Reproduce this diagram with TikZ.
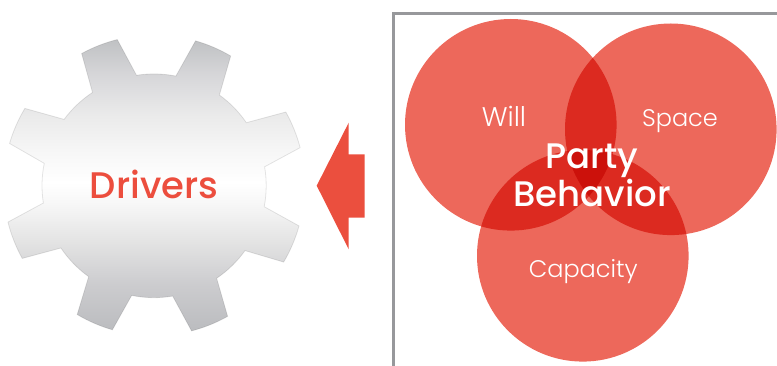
\documentclass[tikz,border=0pt]{standalone}
\usepackage{fontspec}
\usetikzlibrary{calc}
\setmainfont{Poppins}
\newfontfamily\lightfont{Poppins Light}
\newfontfamily\medfont{Poppins Medium}
\definecolor{redfill}{HTML}{ED685B}
\definecolor{arrowred}{HTML}{EB4F3E}
\definecolor{framegray}{HTML}{97989B}
\definecolor{textred}{HTML}{EC4E3E}
\pgfdeclareverticalshading{gearshade}{100bp}{
  rgb(0bp)=(0.733,0.737,0.749);
  rgb(25bp)=(0.733,0.737,0.749);
  rgb(33bp)=(0.80,0.80,0.81);
  rgb(41bp)=(0.90,0.90,0.90);
  rgb(47bp)=(0.97,0.97,0.97);
  rgb(50.5bp)=(1,1,1);
  rgb(56bp)=(0.965,0.965,0.965);
  rgb(62bp)=(0.92,0.92,0.92);
  rgb(69bp)=(0.84,0.84,0.85);
  rgb(75bp)=(0.75,0.757,0.765);
  rgb(100bp)=(0.75,0.757,0.765)
}
\tikzset{
  vennlobe/.style={fill=redfill,blend mode=multiply},
  lighttext/.style={text=white,anchor=base,inner sep=0pt,font=\lightfont\fontsize{24}{24}\selectfont},
  boldtext/.style={text=white,anchor=base,inner sep=0pt,font=\medfont\fontsize{35.5}{36}\selectfont},
}
\begin{document}
\begin{tikzpicture}[x=1pt,y=1pt]
\useasboundingbox (0,0) rectangle (777,366);
% gear
\def\gx{154}\def\gy{180.3}
\shade[shading=gearshade,draw=black,draw opacity=.1,line width=.8pt]
  ($(\gx,\gy)+(118.7:150.7)$) arc[start angle=118.7,end angle=104.1,radius=150.7]
  -- ($(\gx,\gy)+(99:111.8)$) arc[start angle=99,end angle=78.7,radius=111.8]
  -- ($(\gx,\gy)+(74:150.7)$) arc[start angle=74,end angle=59.4,radius=150.7]
  -- ($(\gx,\gy)+(54.2:111.8)$) arc[start angle=54.2,end angle=34.3,radius=111.8]
  -- ($(\gx,\gy)+(29.2:151)$) arc[start angle=29.2,end angle=14.6,radius=151]
  -- ($(\gx,\gy)+(9.7:112.2)$) arc[start angle=9.7,end angle=-10.8,radius=112.2]
  -- ($(\gx,\gy)+(-15.5:150.5)$) arc[start angle=-15.5,end angle=-30.5,radius=150.5]
  -- ($(\gx,\gy)+(-35.5:111.8)$) arc[start angle=-35.5,end angle=-55.9,radius=111.8]
  -- ($(\gx,\gy)+(-60.6:150)$) arc[start angle=-60.6,end angle=-75.5,radius=150]
  -- ($(\gx,\gy)+(-80.4:112)$) arc[start angle=-80.4,end angle=-101.5,radius=112]
  -- ($(\gx,\gy)+(-106.1:150)$) arc[start angle=-106.1,end angle=-120.8,radius=150]
  -- ($(\gx,\gy)+(-125.7:112)$) arc[start angle=-125.7,end angle=-146.2,radius=112]
  -- ($(\gx,\gy)+(-151.1:150.5)$) arc[start angle=-151.1,end angle=-166,radius=150.5]
  -- ($(\gx,\gy)+(-171.1:112)$) arc[start angle=-171.1,end angle=-191.5,radius=112]
  -- ($(\gx,\gy)+(163.7:150.5)$) arc[start angle=163.7,end angle=149.1,radius=150.5]
  -- ($(\gx,\gy)+(143.6:111.7)$) arc[start angle=143.6,end angle=123.4,radius=111.7]
  -- cycle;
\node[anchor=base,inner sep=0pt,text=textred,font=\medfont\fontsize{37}{37}\selectfont] (drivers) at (154,167.7) {Drivers};
% arrow
\fill[arrowred] (316.7,180.3) -- (348.7,243.3) -- (348.7,211.7) -- (364.7,211.7)
  -- (364.7,148.3) -- (348.7,148.3) -- (348.7,116.7) -- cycle;
% frame
\draw[framegray,line width=2.6pt] (393.3,0) -- (393.3,352.3) -- (777,352.3);
% venn
\fill[vennlobe] (510.8,241.2) circle[radius=105.8];
\fill[vennlobe] (670.8,236.7) circle[radius=105.8];
\fill[vennlobe] (582.8,110.2) circle[radius=105.8];
\node[lighttext,font=\lightfont\fontsize{27}{27}\selectfont] (will) at (504,239.3) {Will};
\node[lighttext] (space) at (680,239) {Space};
\node[lighttext] (capacity) at (583.3,88.3) {Capacity};
\node[boldtext] (party) at (591.7,197.7) {Party};
\node[boldtext] (behavior) at (592.3,159.3) {Behavior};
\end{tikzpicture}
\end{document}
